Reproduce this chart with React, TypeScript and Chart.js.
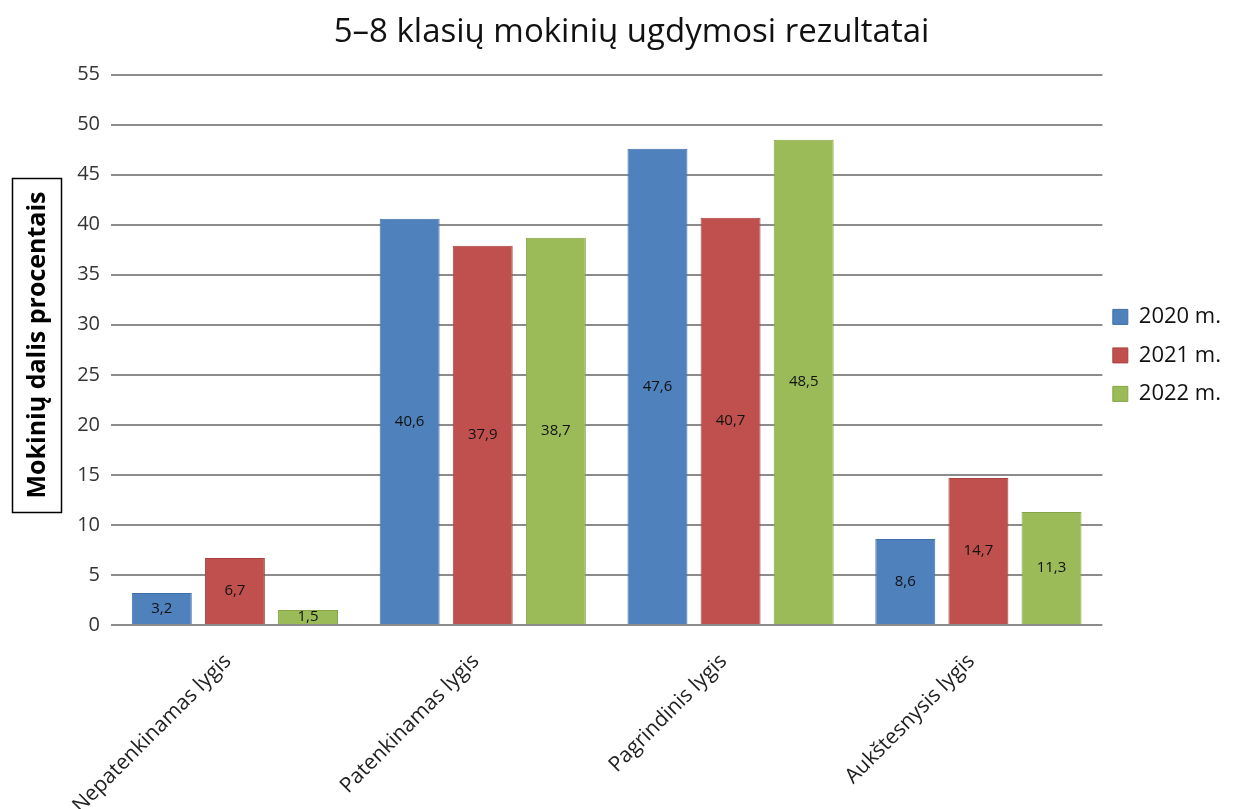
import React, { useEffect, useRef } from "react";
import { Chart, registerables } from "chart.js";

Chart.register(...registerables);

const categories = ["Nepatenkinamas lygis", "Patenkinamas lygis", "Pagrindinis lygis", "Aukštesnysis lygis"];
const seriesNames = ["2020 m.", "2021 m.", "2022 m."];
const values2020 = [3.2, 40.6, 47.6, 8.6];
const values2021 = [6.7, 37.9, 40.7, 14.7];
const values2022 = [1.5, 38.7, 48.5, 11.3];
const colors = ["#4F81BD", "#C0504D", "#9BBB59"];
const borderColors = ["#3F6FA8", "#A84240", "#86A448"];
const yTicks = { min: 0, max: 55, step: 5 };
const title = "5–8 klasių mokinių ugdymosi rezultatai";
const yTitle = "Mokinių dalis procentais";

const FONT = "'Open Sans', sans-serif";

const dataLabelPlugin = {
  id: "dataLabels",
  afterDatasetsDraw(chart: any) {
    const ctx = chart.ctx;
    ctx.save();
    ctx.font = `15px ${FONT}`;
    ctx.fillStyle = "#111";
    ctx.textAlign = "center";
    ctx.textBaseline = "middle";
    chart.data.datasets.forEach((ds: any, i: number) => {
      const meta = chart.getDatasetMeta(i);
      meta.data.forEach((bar: any, j: number) => {
        const v = ds.data[j];
        const y = (bar.y + bar.base) / 2;
        ctx.fillText(String(v).replace(".", ","), bar.x, y);
      });
    });
    ctx.restore();
  },
};

const yTitlePlugin = {
  id: "yTitleBox",
  afterDraw(chart: any) {
    const ctx = chart.ctx;
    ctx.save();
    ctx.strokeStyle = "#000";
    ctx.lineWidth = 1.5;
    ctx.strokeRect(12.5, 178.5, 49, 334);
    ctx.translate(38, 345);
    ctx.rotate(-Math.PI / 2);
    ctx.font = `bold 25px ${FONT}`;
    ctx.fillStyle = "#000";
    ctx.textAlign = "center";
    ctx.textBaseline = "middle";
    ctx.fillText(yTitle, 0, 0);
    ctx.restore();
  },
};

const legendShiftPlugin = {
  id: "legendShift",
  afterLayout(chart: any) {
    if (chart.legend) {
      chart.legend.left -= 6;
      chart.legend.right -= 6;
    }
  },
};

export default function App() {
  const ref = useRef<HTMLCanvasElement>(null);
  useEffect(() => {
    document.body.style.margin = "0";
    const chart = new Chart(ref.current!, {
      type: "bar",
      data: {
        labels: categories,
        datasets: [values2020, values2021, values2022].map((d, i) => ({
          label: seriesNames[i],
          data: d,
          backgroundColor: colors[i],
          borderColor: borderColors[i],
          borderWidth: 1,
          categoryPercentage: 0.885,
          barPercentage: 0.82,
        })),
      },
      options: {
        animation: false,
        responsive: false,
        layout: { padding: { top: 0, right: 1, left: 26, bottom: 0 } },
        plugins: {
          title: {
            display: true,
            text: title,
            font: { family: FONT, size: 33, weight: "normal" },
            color: "#111",
            padding: { top: 13, bottom: 22 },
          },
          legend: {
            position: "right",
            align: "start",
            title: { display: true, text: " ", font: { size: 2 }, padding: { top: 287, bottom: 0 } },
            labels: {
              boxWidth: 15,
              boxHeight: 15,
              padding: 16.5,
              font: { family: FONT, size: 22 },
              color: "#111",
            },
          },
          tooltip: { enabled: false },
        },
        scales: {
          x: {
            grid: { display: false },
            border: { display: false },
            ticks: {
              minRotation: 45,
              maxRotation: 45,
              labelOffset: -7,
              font: { family: FONT, size: 21 },
              color: "#222",
              padding: 16,
            },
            afterFit: (s: any) => {
              s.height = 184;
            },
          },
          y: {
            min: yTicks.min,
            max: yTicks.max,
            ticks: { stepSize: yTicks.step, font: { family: FONT, size: 20 }, color: "#333", padding: 11 },
            grid: { color: "#8c8c8c", lineWidth: 2, drawTicks: false },
            border: { display: false },
            afterFit: (s: any) => {
              s.width = 85;
            },
          },
        },
      },
      plugins: [dataLabelPlugin, yTitlePlugin, legendShiftPlugin],
    });
    return () => chart.destroy();
  }, []);
  return (
    <div style={{ width: 1238, height: 809 }}>
      <canvas ref={ref} width={1238} height={809} style={{ display: "block" }} />
    </div>
  );
}
